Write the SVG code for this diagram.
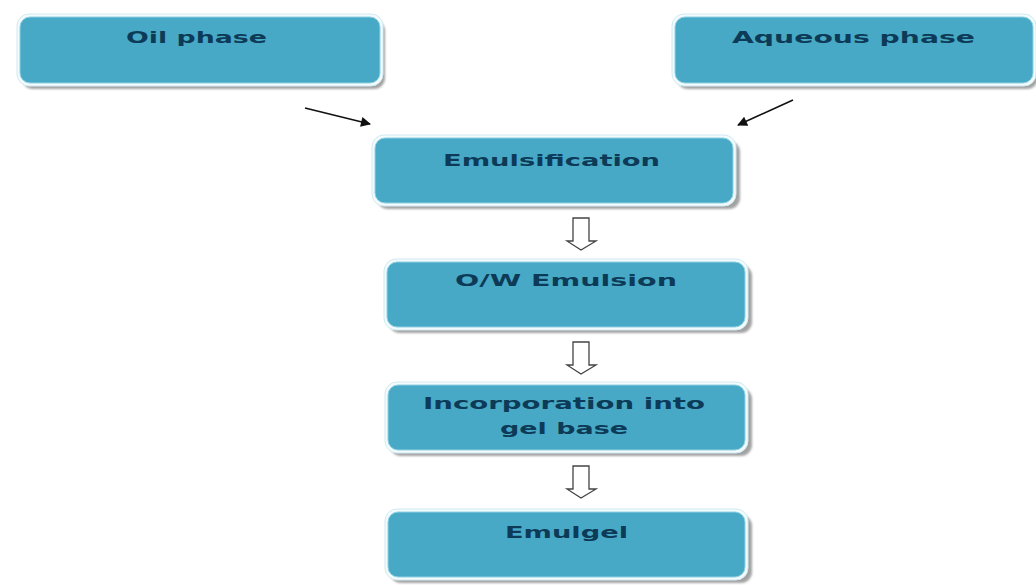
<svg xmlns="http://www.w3.org/2000/svg" width="1036" height="585" viewBox="0 0 1036 585">
  <defs>
    <filter id="sh" x="-5%" y="-10%" width="115%" height="130%">
      <feGaussianBlur stdDeviation="1.2"/>
    </filter>
    <marker id="ah2" viewBox="0 0 10 10" refX="9" refY="5" markerWidth="13" markerHeight="10" orient="auto" markerUnits="userSpaceOnUse">
      <path d="M0,0 L10,5 L0,10 Z" fill="#111"/>
    </marker>
  </defs>
  <style>
    .shadow { fill: #8c8c8c; filter: url(#sh); opacity: 0.8; }
    .rim { fill: #f4fbfd; stroke: #cfeaf3; stroke-width: 1; }
    .box { fill: #47a9c6; stroke: #8fd0e3; stroke-width: 1; }
    .lbl { font-family: "DejaVu Sans", "Liberation Sans", sans-serif; font-size: 16px; font-weight: bold; fill: #0d3b57; text-anchor: start; }
    .conn { stroke: #111; stroke-width: 1.6; fill: none; }
    .hollow { fill: #ffffff; stroke: #444; stroke-width: 1.3; }
  </style>
  <rect width="1036" height="585" fill="#ffffff"/>

  <g id="oil-phase">
    <rect class="shadow" x="22" y="20" width="363" height="69" rx="11"/>
    <rect class="rim" x="17" y="14" width="366" height="72" rx="12"/>
    <rect class="box" x="20" y="17" width="360" height="66" rx="10"/>
    <text class="lbl" x="126" y="43" textLength="141" lengthAdjust="spacingAndGlyphs">Oil phase</text>
  </g>

  <g id="aqueous-phase">
    <rect class="shadow" x="677" y="20" width="361" height="69" rx="11"/>
    <rect class="rim" x="672" y="14" width="364" height="72" rx="12"/>
    <rect class="box" x="675" y="17" width="358" height="66" rx="10"/>
    <text class="lbl" x="732" y="43" textLength="243" lengthAdjust="spacingAndGlyphs">Aqueous phase</text>
  </g>

  <g id="emulsification">
    <rect class="shadow" x="377" y="141" width="363" height="68" rx="11"/>
    <rect class="rim" x="372" y="135" width="364" height="71" rx="12"/>
    <rect class="box" x="375" y="138" width="358" height="65" rx="10"/>
    <text class="lbl" x="443" y="166" textLength="217" lengthAdjust="spacingAndGlyphs">Emulsification</text>
  </g>

  <g id="ow-emulsion">
    <rect class="shadow" x="389" y="265" width="363" height="68" rx="11"/>
    <rect class="rim" x="384" y="259" width="364" height="71" rx="12"/>
    <rect class="box" x="387" y="262" width="358" height="65" rx="10"/>
    <text class="lbl" x="455" y="286" textLength="222" lengthAdjust="spacingAndGlyphs">O/W Emulsion</text>
  </g>

  <g id="incorporation">
    <rect class="shadow" x="390" y="388" width="362" height="68" rx="11"/>
    <rect class="rim" x="385" y="382" width="363" height="71" rx="12"/>
    <rect class="box" x="388" y="385" width="357" height="65" rx="10"/>
    <text class="lbl" x="423" y="409" textLength="282" lengthAdjust="spacingAndGlyphs">Incorporation into</text>
    <text class="lbl" x="500" y="434" textLength="128" lengthAdjust="spacingAndGlyphs">gel base</text>
  </g>

  <g id="emulgel">
    <rect class="shadow" x="390" y="515" width="362" height="68" rx="11"/>
    <rect class="rim" x="385" y="509" width="363" height="71" rx="12"/>
    <rect class="box" x="388" y="512" width="357" height="65" rx="10"/>
    <text class="lbl" x="505" y="538" textLength="123" lengthAdjust="spacingAndGlyphs">Emulgel</text>
  </g>

  <g id="connectors">
    <line class="conn" x1="305" y1="108" x2="370" y2="124" marker-end="url(#ah2)"/>
    <line class="conn" x1="793" y1="100" x2="738" y2="125" marker-end="url(#ah2)"/>
    <path class="hollow" d="M573,218 L589,218 L589,241 L596,241 L581,250 L567,241 L573,241 Z"/>
    <path class="hollow" d="M573,342 L589,342 L589,365 L596,365 L581,374 L567,365 L573,365 Z"/>
    <path class="hollow" d="M573,466 L589,466 L589,489 L596,489 L581,498 L567,489 L573,489 Z"/>
  </g>
</svg>
